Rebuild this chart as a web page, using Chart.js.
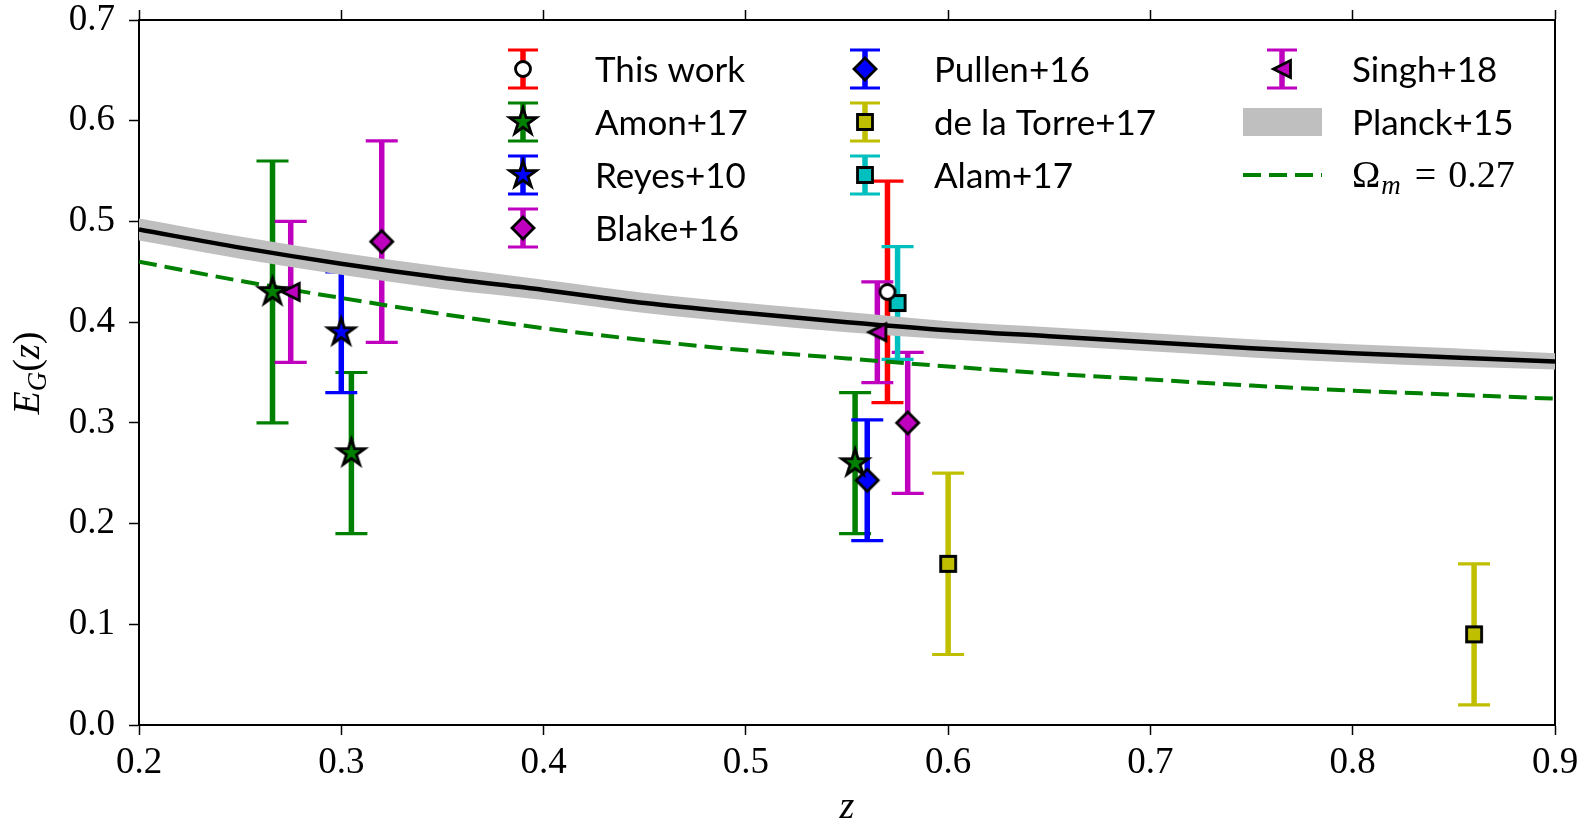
<!DOCTYPE html>
<html lang="en">
<head>
  <meta charset="UTF-8">
  <title>E_G(z)</title>
  <script src="https://cdn.jsdelivr.net/npm/chart.js"></script>
  <style>
    html, body {
      margin: 0;
      padding: 0;
      background: #fff;
      overflow: hidden;
    }
  </style>
</head>
<body>
  <canvas id="egChart" width="1588" height="824"></canvas>

<script>
  // ---- data ----
  // measurements: redshift, E_G value, symmetric 1-sigma error
  const thisWorkZ = [0.57];
  const thisWorkEG = [0.43];
  const thisWorkErr = [0.11];

  const amonZ = [0.266, 0.305, 0.554];
  const amonEG = [0.43, 0.27, 0.26];
  const amonErr = [0.13, 0.08, 0.07];

  const reyesZ = [0.30];
  const reyesEG = [0.39];
  const reyesErr = [0.06];

  const blakeZ = [0.32, 0.58];
  const blakeEG = [0.48, 0.30];
  const blakeErr = [0.10, 0.07];

  const pullenZ = [0.56];
  const pullenEG = [0.243];
  const pullenErr = [0.06];

  const torreZ = [0.60, 0.86];
  const torreEG = [0.16, 0.09];
  const torreErr = [0.09, 0.07];

  const alamZ = [0.575];
  const alamEG = [0.419];
  const alamErr = [0.056];

  const singhZ = [0.275, 0.565];
  const singhEG = [0.43, 0.39];
  const singhErr = [0.07, 0.05];

  // model curves
  const curveZ = [0.20, 0.25, 0.30, 0.35, 0.40, 0.45, 0.50, 0.55, 0.60, 0.65, 0.70, 0.75, 0.80, 0.85, 0.90];
  const planckEG = [0.492, 0.474, 0.458, 0.444, 0.432, 0.419, 0.409, 0.400, 0.392, 0.386, 0.380, 0.374, 0.369, 0.365, 0.361];
  const planckHi = [0.503, 0.485, 0.469, 0.455, 0.442, 0.429, 0.419, 0.410, 0.401, 0.395, 0.389, 0.383, 0.378, 0.374, 0.369];
  const planckLo = [0.481, 0.463, 0.447, 0.433, 0.422, 0.409, 0.399, 0.390, 0.383, 0.377, 0.371, 0.365, 0.360, 0.356, 0.353];
  const om027EG = [0.460, 0.441, 0.424, 0.408, 0.394, 0.382, 0.372, 0.364, 0.356, 0.349, 0.343, 0.337, 0.332, 0.328, 0.324];

  const xTicks = [0.2, 0.3, 0.4, 0.5, 0.6, 0.7, 0.8, 0.9];
  const yTicks = [0.0, 0.1, 0.2, 0.3, 0.4, 0.5, 0.6, 0.7];

  // ---- markers (matplotlib-like, black edge) ----
  function makeMarker(shape, fill) {
    const c = document.createElement('canvas');
    c.width = 48;
    c.height = 48;
    const g = c.getContext('2d');
    const m = 24;
    g.beginPath();
    if (shape === 'star') {
      const R = 14, r = R * 0.382;
      for (let i = 0; i < 10; i++) {
        const a = -Math.PI / 2 + i * Math.PI / 5;
        const rr = i % 2 ? r : R;
        g.lineTo(m + rr * Math.cos(a), m + rr * Math.sin(a));
      }
      g.closePath();
    } else if (shape === 'diamond') {
      const d = 11;
      g.moveTo(m, m - d); g.lineTo(m + d, m); g.lineTo(m, m + d); g.lineTo(m - d, m);
      g.closePath();
    } else if (shape === 'square') {
      g.rect(m - 7.5, m - 7.5, 15, 15);
    } else if (shape === 'circle') {
      g.arc(m, m, 7.5, 0, Math.PI * 2);
    } else if (shape === 'triLeft') {
      const s = 8.5;
      g.moveTo(m - s, m); g.lineTo(m + s, m - s); g.lineTo(m + s, m + s);
      g.closePath();
    }
    g.fillStyle = fill;
    g.fill();
    g.lineWidth = 2.8;
    g.lineJoin = 'miter';
    g.strokeStyle = '#000';
    g.stroke();
    return c;
  }

  const RED = '#ff0000', GREEN = '#008000', BLUE = '#0000ff', MAG = '#bf00bf', YEL = '#bfbf00', CYAN = '#00bfbf';

  const series = [
    { label: 'This work', z: thisWorkZ, eg: thisWorkEG, err: thisWorkErr, color: RED, marker: makeMarker('circle', '#ffffff') },
    { label: 'Amon+17', z: amonZ, eg: amonEG, err: amonErr, color: GREEN, marker: makeMarker('star', GREEN) },
    { label: 'Reyes+10', z: reyesZ, eg: reyesEG, err: reyesErr, color: BLUE, marker: makeMarker('star', BLUE) },
    { label: 'Blake+16', z: blakeZ, eg: blakeEG, err: blakeErr, color: MAG, marker: makeMarker('diamond', MAG) },
    { label: 'Pullen+16', z: pullenZ, eg: pullenEG, err: pullenErr, color: BLUE, marker: makeMarker('diamond', BLUE) },
    { label: 'de la Torre+17', z: torreZ, eg: torreEG, err: torreErr, color: YEL, marker: makeMarker('square', YEL) },
    { label: 'Alam+17', z: alamZ, eg: alamEG, err: alamErr, color: CYAN, marker: makeMarker('square', CYAN) },
    { label: 'Singh+18', z: singhZ, eg: singhEG, err: singhErr, color: MAG, marker: makeMarker('triLeft', MAG) }
  ];

  const toXY = (xs, ys) => xs.map((v, i) => ({ x: v, y: ys[i] }));

  const datasets = series.map(s => ({
    label: s.label,
    data: toXY(s.z, s.eg),
    pointStyle: s.marker,
    pointRadius: 10,
    showLine: false,
    order: 0
  }));
  datasets.push({
    type: 'line', label: 'Planck+15 mean', data: toXY(curveZ, planckEG),
    borderColor: '#000', borderWidth: 4.5, pointRadius: 0, cubicInterpolationMode: 'monotone', fill: false, order: 1
  });
  datasets.push({
    type: 'line', label: 'Omega_m = 0.27', data: toXY(curveZ, om027EG),
    borderColor: GREEN, borderWidth: 4, borderDash: [18, 8], pointRadius: 0, cubicInterpolationMode: 'monotone', fill: false, order: 1
  });
  datasets.push({
    type: 'line', label: 'Planck+15', data: toXY(curveZ, planckHi),
    borderWidth: 0, pointRadius: 0, backgroundColor: '#bfbfbf', fill: '+1', cubicInterpolationMode: 'monotone', order: 2
  });
  datasets.push({
    type: 'line', label: 'Planck+15 low', data: toXY(curveZ, planckLo),
    borderWidth: 0, pointRadius: 0, fill: false, cubicInterpolationMode: 'monotone', order: 2
  });

  // error bars go under the curves and markers
  const errorBars = {
    id: 'errorBars',
    beforeDatasetsDraw(chart) {
      const { ctx, scales: { x, y } } = chart;
      ctx.save();
      series.forEach(s => {
        s.z.forEach((zv, i) => {
          const px = x.getPixelForValue(zv);
          const top = y.getPixelForValue(s.eg[i] + s.err[i]);
          const bot = y.getPixelForValue(s.eg[i] - s.err[i]);
          ctx.strokeStyle = s.color;
          ctx.lineWidth = 5.5;
          ctx.beginPath();
          ctx.moveTo(px, top);
          ctx.lineTo(px, bot);
          ctx.stroke();
          ctx.lineWidth = 3.2;
          ctx.beginPath();
          ctx.moveTo(px - 16, top); ctx.lineTo(px + 16, top);
          ctx.moveTo(px - 16, bot); ctx.lineTo(px + 16, bot);
          ctx.stroke();
        });
      });
      ctx.restore();
    }
  };

  function drawIcon(ctx, s, cx, cy) {
    ctx.strokeStyle = s.color;
    ctx.lineWidth = 5.5;
    ctx.beginPath();
    ctx.moveTo(cx, cy - 19); ctx.lineTo(cx, cy + 19);
    ctx.stroke();
    ctx.lineWidth = 3.2;
    ctx.beginPath();
    ctx.moveTo(cx - 15, cy - 19); ctx.lineTo(cx + 15, cy - 19);
    ctx.moveTo(cx - 15, cy + 19); ctx.lineTo(cx + 15, cy + 19);
    ctx.stroke();
    ctx.drawImage(s.marker, cx - s.marker.width / 2, cy - s.marker.height / 2);
  }

  // legend in three columns, drawn by hand because of the error-bar icons
  const legendPlugin = {
    id: 'egLegend',
    afterDraw(chart) {
      const ctx = chart.ctx;
      const rows = [69, 122, 175, 228];
      const cols = [{ icon: 523, text: 595 }, { icon: 865, text: 934 }, { icon: 1282, text: 1352 }];
      const place = [[0, 0], [0, 1], [0, 2], [0, 3], [1, 0], [1, 1], [1, 2], [2, 0]];
      ctx.save();
      ctx.font = '35px Lato';
      ctx.textBaseline = 'middle';
      ctx.fillStyle = '#000';
      series.forEach((s, i) => {
        const [c, r] = place[i];
        drawIcon(ctx, s, cols[c].icon, rows[r]);
        ctx.fillStyle = '#000';
        ctx.fillText(s.label, cols[c].text, rows[r] + 2);
      });
      // Planck band
      ctx.fillStyle = '#bfbfbf';
      ctx.fillRect(1243, rows[1] - 14, 79, 28);
      ctx.fillStyle = '#000';
      ctx.fillText('Planck+15', cols[2].text, rows[1] + 2);
      // dashed model
      ctx.strokeStyle = GREEN;
      ctx.lineWidth = 4;
      ctx.setLineDash([18, 8]);
      ctx.beginPath();
      ctx.moveTo(1243, rows[2]);
      ctx.lineTo(1322, rows[2]);
      ctx.stroke();
      ctx.setLineDash([]);
      let tx = cols[2].text;
      ctx.textBaseline = 'alphabetic';
      const base = rows[2] + 12;
      ctx.font = '38px "Liberation Serif"';
      ctx.fillText('\u03A9', tx, base);
      tx += ctx.measureText('\u03A9').width + 1;
      ctx.font = 'italic 27px "Liberation Serif"';
      ctx.fillText('m', tx, base + 7);
      tx += ctx.measureText('m').width + 14;
      ctx.font = '38px "Liberation Serif"';
      ctx.fillText('=', tx, base);
      tx += ctx.measureText('=').width + 12;
      ctx.fillText('0.27', tx, base);
      ctx.restore();
    }
  };

  // axis titles E_G(z) and z
  const axisTitles = {
    id: 'axisTitles',
    afterDraw(chart) {
      const ctx = chart.ctx;
      ctx.save();
      ctx.fillStyle = '#000';
      ctx.textBaseline = 'alphabetic';
      ctx.font = 'italic 38px "Liberation Serif"';
      const zw = ctx.measureText('z').width;
      ctx.fillText('z', 847 - zw / 2, 818);

      const parts = [
        { t: 'E', f: 'italic 38px "Liberation Serif"', dy: 0 },
        { t: 'G', f: 'italic 27px "Liberation Serif"', dy: 7 },
        { t: '(', f: '38px "Liberation Serif"', dy: 0 },
        { t: 'z', f: 'italic 38px "Liberation Serif"', dy: 0 },
        { t: ')', f: '38px "Liberation Serif"', dy: 0 }
      ];
      let total = 0;
      parts.forEach(p => { ctx.font = p.f; p.w = ctx.measureText(p.t).width; total += p.w; });
      ctx.translate(39, 373);
      ctx.rotate(-Math.PI / 2);
      let px = -total / 2;
      parts.forEach(p => {
        ctx.font = p.f;
        ctx.fillText(p.t, px, p.dy);
        px += p.w;
      });
      ctx.restore();
    }
  };

  const tickFont = { family: 'Liberation Serif', size: 37 };
  const noPad = s => { s.paddingTop = 0; s.paddingBottom = 0; s.paddingLeft = 0; s.paddingRight = 0; };

  new Chart(document.getElementById('egChart'), {
    type: 'scatter',
    data: { datasets },
    options: {
      responsive: false,
      animation: false,
      layout: { padding: 0 },
      plugins: {
        legend: { display: false },
        tooltip: { enabled: false }
      },
      scales: {
        x: {
          type: 'linear',
          position: 'bottom',
          min: xTicks[0],
          max: xTicks[xTicks.length - 1],
          afterBuildTicks: s => { s.ticks = xTicks.map(v => ({ value: v })); },
          ticks: { font: tickFont, color: '#000', padding: 6, maxRotation: 0, autoSkip: false, callback: v => v.toFixed(1) },
          grid: { drawOnChartArea: false, tickLength: 10, tickWidth: 1.5, tickColor: '#000' },
          border: { color: '#000', width: 2 },
          afterFit: s => { s.height = 99; noPad(s); }
        },
        xTop: {
          type: 'linear',
          position: 'top',
          min: xTicks[0],
          max: xTicks[xTicks.length - 1],
          afterBuildTicks: s => { s.ticks = xTicks.map(v => ({ value: v })); },
          ticks: { display: false },
          grid: { drawOnChartArea: false, tickLength: 10, tickWidth: 1.5, tickColor: '#000' },
          border: { color: '#000', width: 2 },
          afterFit: s => { s.height = 20; noPad(s); }
        },
        y: {
          type: 'linear',
          position: 'left',
          min: yTicks[0],
          max: yTicks[yTicks.length - 1],
          afterBuildTicks: s => { s.ticks = yTicks.map(v => ({ value: v })); },
          ticks: { font: tickFont, color: '#000', padding: 14, autoSkip: false, callback: v => v.toFixed(1) },
          grid: { drawOnChartArea: false, tickLength: 10, tickWidth: 1.5, tickColor: '#000' },
          border: { color: '#000', width: 2 },
          afterFit: s => { s.width = 139; noPad(s); }
        },
        yRight: {
          type: 'linear',
          position: 'right',
          min: yTicks[0],
          max: yTicks[yTicks.length - 1],
          ticks: { display: false },
          grid: { display: false, drawTicks: false },
          border: { display: true, color: '#000', width: 2 },
          afterFit: s => { s.width = 33; noPad(s); }
        }
      }
    },
    plugins: [errorBars, legendPlugin, axisTitles]
  });
</script>
</body>
</html>
